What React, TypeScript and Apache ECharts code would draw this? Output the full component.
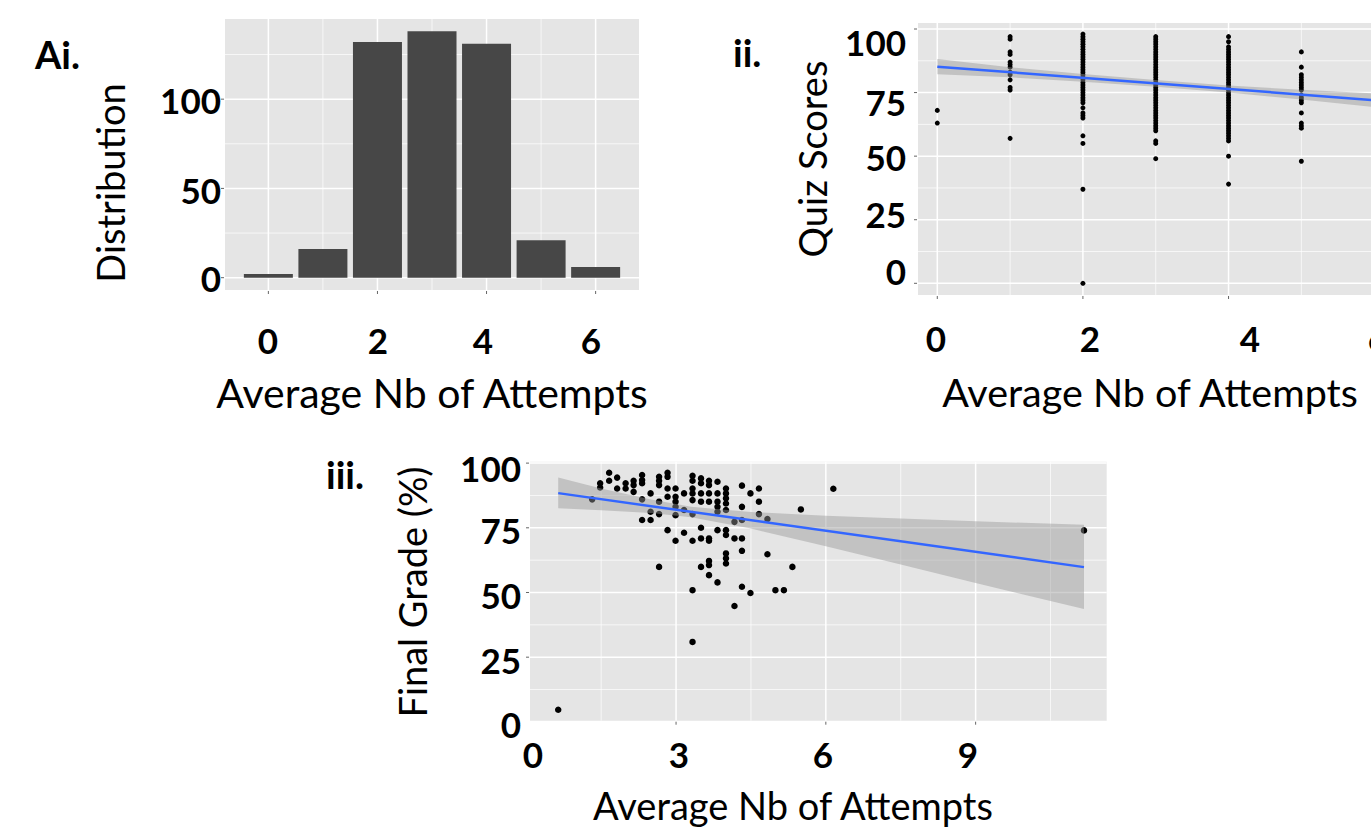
import React, { useEffect, useRef } from "react";
import * as echarts from "echarts";

// ---------- Panel Ai : distribution of average number of attempts ----------
const aiAttempts = [0, 1, 2, 3, 4, 5, 6];
const aiCounts = [2, 16, 132, 138, 131, 21, 6];
const aiXTickLabels = ["0", "2", "4", "6"];
const aiYTickLabels = ["100", "50", "0"];

// ---------- Panel ii : quiz scores by attempts ----------
const quizAt0 = [68, 63];
const quizAt1 = [97, 96, 91, 90, 87, 86, 85, 83, 82, 80, 77, 76, 57];
const quizAt2 = [98, 97, 96, 95, 94, 93, 92, 91, 90, 89, 88, 87, 86, 85, 84, 83, 82, 81, 80, 79, 78, 77, 76, 75, 74, 73, 72, 71, 69, 67, 66, 65, 58, 55, 37, 0];
const quizAt3 = [97, 96, 95, 94, 93, 92, 91, 90, 89, 88, 87, 86, 85, 84, 83, 82, 81, 80, 79, 78, 77, 76, 75, 74, 73, 72, 71, 70, 69, 68, 67, 66, 65, 64, 63, 62, 61, 60, 56, 55, 49];
const quizAt4 = [97, 95, 93, 92, 91, 90, 89, 88, 87, 86, 85, 84, 83, 82, 81, 80, 79, 78, 77, 76, 75, 74, 73, 72, 71, 70, 69, 68, 67, 66, 65, 64, 63, 62, 61, 60, 59, 58, 57, 56, 50, 39];
const quizAt5 = [91, 85, 82, 81, 80, 79, 78, 77, 76, 74, 73, 72, 71, 67, 63, 62, 61, 48];
const iiFitX = [0, 6];
const iiFitY = [85.2, 72.0];
const iiBandX = [0, 1, 2, 3, 4, 5, 6];
const iiBandLow = [82.2, 81.0, 79.3, 77.3, 75.0, 72.3, 69.3];
const iiBandHigh = [88.2, 85.0, 82.3, 79.9, 77.8, 76.1, 74.7];
const iiXTickLabels = ["0", "2", "4", "6"];
const iiYTickLabels = ["100", "75", "50", "25", "0"];

// ---------- Panel iii : final grade by attempts ----------
const gradeAttempts = [
  1.66, 1.48, 1.48, 1.66, 1.82, 1.82, 1.99, 1.99, 2.15, 2.15, 2.15, 2.32, 2.32, 2.32, 2.32, 2.49,
  2.66, 2.66, 2.66, 2.66, 2.83, 2.83, 2.83, 2.83, 2.99, 2.99, 2.99, 2.99, 2.99, 3.16, 3.16,
  3.33, 3.33, 3.33, 3.33, 3.33, 3.33, 3.5, 3.5, 3.5, 3.5, 3.66, 3.66, 3.66, 3.66,
  3.83, 3.83, 3.83, 3.83, 3.83, 4.0, 4.0, 4.0, 4.0, 4.0, 1.32, 2.49, 2.49, 2.32, 2.66,
  2.83, 2.99, 3.16, 3.33, 3.5, 3.5, 3.66, 3.66, 3.83, 4.0, 4.0, 4.17, 4.17,
  4.32, 4.32, 4.32, 4.32, 4.32, 4.49, 4.66, 4.66, 4.66, 4.83, 4.83,
  2.66, 3.5, 3.66, 3.66, 3.66, 3.83, 4.0, 4.0, 4.0, 4.32, 4.49, 4.99, 5.16, 5.33, 5.5,
  3.33, 4.17, 3.33, 6.15, 11.17, 0.64,
];
const gradeValues = [
  96.3, 92.2, 90.6, 93.2, 94.4, 90.2, 92.2, 90.2, 93.2, 91.5, 88.9, 95.4, 93.5, 92.2, 86.0, 88.3,
  94.7, 93.2, 91.5, 85.1, 96.3, 94.7, 90.2, 87.0, 90.2, 87.0, 85.1, 83.1, 79.9, 88.3, 81.9,
  95.1, 93.2, 90.2, 88.3, 85.7, 80.3, 94.1, 92.2, 88.3, 85.1, 93.2, 91.5, 88.3, 85.1,
  92.8, 88.3, 85.1, 83.1, 81.2, 90.2, 88.3, 86.4, 84.4, 81.9, 86.0, 81.2, 78.0, 78.0, 80.3,
  74.1, 70.0, 73.1, 70.0, 75.0, 70.9, 70.9, 70.0, 74.1, 74.1, 72.2, 77.3, 70.9,
  91.3, 83.1, 78.0, 70.9, 66.1, 88.3, 90.2, 85.1, 80.3, 78.4, 64.8,
  59.9, 59.9, 62.2, 60.6, 56.7, 53.9, 65.1, 63.2, 61.2, 52.2, 49.8, 50.9, 50.9, 59.9, 82.1,
  50.9, 44.8, 30.9, 90.1, 74.0, 4.7,
];
const iiiFitX = [0.64, 11.17];
const iiiFitY = [88.4, 59.8];
const iiiBandX = [0.64, 1.5, 2.5, 3.3, 4.5, 6, 7.5, 9, 11.17];
const iiiBandLow = [82.6, 81.8, 80.7, 79.1, 74.7, 67.9, 60.8, 53.7, 43.6];
const iiiBandHigh = [94.4, 90.2, 85.9, 83.1, 81.1, 79.7, 78.6, 77.5, 76.2];
const iiiXTickLabels = ["0", "3", "6", "9"];
const iiiYTickLabels = ["100", "75", "50", "25", "0"];

const xTitle = "Average Nb of Attempts";

const FONT = "Lato, 'Open Sans', sans-serif";
const BG = "#e5e5e5";

type GL = { d: "v" | "h" | "tv" | "th"; v: number; w: number };

function gridSeries(gi: number, xr: number[], yr: number[], xMaj: number[], xMin: number[], yMaj: number[], yMin: number[]) {
  const items: GL[] = [];
  const inX = (v: number) => v >= xr[0] && v <= xr[1];
  const inY = (v: number) => v >= yr[0] && v <= yr[1];
  xMin.filter(inX).forEach((v) => items.push({ d: "v", v, w: 0.7 }));
  yMin.filter(inY).forEach((v) => items.push({ d: "h", v, w: 0.7 }));
  xMaj.filter(inX).forEach((v) => items.push({ d: "v", v, w: 1.5 }));
  yMaj.filter(inY).forEach((v) => items.push({ d: "h", v, w: 1.5 }));
  xMaj.filter(inX).forEach((v) => items.push({ d: "tv", v, w: 1 }));
  yMaj.filter(inY).forEach((v) => items.push({ d: "th", v, w: 1 }));
  return {
    type: "custom",
    xAxisIndex: gi,
    yAxisIndex: gi,
    silent: true,
    z: 1,
    data: items.map(() => [xr[0], yr[0]]),
    renderItem: (params: any, api: any) => {
      const it = items[params.dataIndex];
      if (it.d === "v") {
        const a = api.coord([it.v, yr[0]]);
        const b = api.coord([it.v, yr[1]]);
        return { type: "line", shape: { x1: a[0], y1: a[1], x2: b[0], y2: b[1] }, style: { stroke: "#ffffff", lineWidth: it.w } };
      }
      if (it.d === "h") {
        const a = api.coord([xr[0], it.v]);
        const b = api.coord([xr[1], it.v]);
        return { type: "line", shape: { x1: a[0], y1: a[1], x2: b[0], y2: b[1] }, style: { stroke: "#ffffff", lineWidth: it.w } };
      }
      if (it.d === "tv") {
        const a = api.coord([it.v, yr[0]]);
        return { type: "line", shape: { x1: a[0], y1: a[1] + 1, x2: a[0], y2: a[1] + 4 }, style: { stroke: "#666", lineWidth: it.w } };
      }
      const a = api.coord([xr[0], it.v]);
      return { type: "line", shape: { x1: a[0] - 4, y1: a[1], x2: a[0] - 1, y2: a[1] }, style: { stroke: "#666", lineWidth: it.w } };
    },
  };
}

function bandSeries(gi: number, bx: number[], lo: number[], hi: number[]) {
  return {
    type: "custom",
    xAxisIndex: gi,
    yAxisIndex: gi,
    silent: true,
    z: 3,
    data: bx.map((x, i) => [x, lo[i]]),
    renderItem: (params: any, api: any) => {
      if (params.dataIndex !== 0) return null;
      const pts: number[][] = [];
      bx.forEach((x, i) => pts.push(api.coord([x, lo[i]])));
      for (let i = bx.length - 1; i >= 0; i--) pts.push(api.coord([bx[i], hi[i]]));
      return { type: "polygon", shape: { points: pts }, style: { fill: "rgba(150,150,150,0.45)" } };
    },
  };
}

function txt(text: string, x: number, y: number, size: number, bold: boolean, align = "center", rotate = 0) {
  return {
    type: "text",
    x,
    y,
    rotation: rotate,
    z: 10,
    silent: true,
    style: {
      text,
      fill: "#000",
      font: `${bold ? "bold " : ""}${size}px ${FONT}`,
      textAlign: align,
      textVerticalAlign: "middle",
    },
  };
}

export default function App() {
  const ref = useRef<HTMLDivElement>(null);
  useEffect(() => {
    if (!ref.current) return;
    const chart = echarts.init(ref.current, null, { renderer: "svg" });

    const aiXR = [-0.795, 6.795];
    const aiYR = [-6.9, 144.9];
    const iiXR = [-0.265, 6.3];
    const iiYR = [-4.6, 102.36];
    const iiiXR = [0.075, 11.625];
    const iiiYR = [0.45, 100.55];

    const quizCols = [quizAt0, quizAt1, quizAt2, quizAt3, quizAt4, quizAt5];
    const quizPoints: number[][] = [];
    quizCols.forEach((col, x) => col.forEach((y) => quizPoints.push([x, y])));

    const axisOff = { axisLabel: { show: false }, axisTick: { show: false }, axisLine: { show: false }, splitLine: { show: false } };

    const TICK = 35;
    const YT = 38;
    const PANEL = 38;

    const graphics: any[] = [
      // Panel labels
      txt("Ai.", 35, 54, PANEL, true, "left"),
      txt("ii.", 733, 52, PANEL, true, "left"),
      txt("iii.", 326, 474, PANEL, true, "left"),
      // Axis titles
      txt("Distribution", 110, 183, YT, false, "center", Math.PI / 2),
      txt(xTitle, 432, 392, 41, false),
      txt("Quiz Scores", 812, 159, YT, false, "center", Math.PI / 2),
      txt(xTitle, 1150, 391, 39.5, false),
      txt("Final Grade (%)", 412, 592, YT, false, "center", Math.PI / 2),
      txt(xTitle, 793, 805, 38, false),
    ];
    const aiXPos = [268, 378, 483, 591];
    aiXTickLabels.forEach((t, i) => graphics.push(txt(t, aiXPos[i], 340, TICK, true)));
    const aiYPos = [100, 190, 278];
    aiYTickLabels.forEach((t, i) => graphics.push(txt(t, 221, aiYPos[i], TICK, true, "right")));
    const iiXPos = [936, 1090, 1250, 1378];
    iiXTickLabels.forEach((t, i) => graphics.push(txt(t, iiXPos[i], 338, TICK, true)));
    const iiYPos = [42, 102, 157, 214, 271];
    iiYTickLabels.forEach((t, i) => graphics.push(txt(t, 906, iiYPos[i], TICK, true, "right")));
    const iiiXPos = [533, 679, 823, 968];
    iiiXTickLabels.forEach((t, i) => graphics.push(txt(t, iiiXPos[i], 754, TICK, true)));
    const iiiYPos = [468, 530, 595, 660, 724];
    iiiYTickLabels.forEach((t, i) => graphics.push(txt(t, 521, iiiYPos[i], TICK, true, "right")));

    const gridBase = { show: true, backgroundColor: BG, borderWidth: 0, outerBoundsMode: "none", containLabel: false };

    chart.setOption({
      animation: false,
      backgroundColor: "#ffffff",
      grid: [
        { ...gridBase, left: 225, top: 19, width: 414, height: 271 },
        { ...gridBase, left: 918, top: 23, width: 478, height: 272 },
        { ...gridBase, left: 530, top: 461.7, width: 576.7, height: 259 },
      ],
      xAxis: [
        { gridIndex: 0, type: "value", min: aiXR[0], max: aiXR[1], ...axisOff },
        { gridIndex: 1, type: "value", min: iiXR[0], max: iiXR[1], ...axisOff },
        { gridIndex: 2, type: "value", min: iiiXR[0], max: iiiXR[1], ...axisOff },
      ],
      yAxis: [
        { gridIndex: 0, type: "value", min: aiYR[0], max: aiYR[1], ...axisOff },
        { gridIndex: 1, type: "value", min: iiYR[0], max: iiYR[1], ...axisOff },
        { gridIndex: 2, type: "value", min: iiiYR[0], max: iiiYR[1], ...axisOff },
      ],
      graphic: graphics,
      series: [
        gridSeries(0, aiXR, aiYR, [0, 2, 4, 6], [1, 3, 5], [0, 50, 100], [25, 75, 125]),
        gridSeries(1, iiXR, iiYR, [0, 2, 4, 6], [1, 3, 5], [0, 25, 50, 75, 100], [12.5, 37.5, 62.5, 87.5]),
        gridSeries(2, iiiXR, iiiYR, [0, 3, 6, 9], [1.5, 4.5, 7.5, 10.5], [0, 25, 50, 75, 100], [12.5, 37.5, 62.5, 87.5]),
        {
          type: "bar",
          xAxisIndex: 0,
          yAxisIndex: 0,
          z: 2,
          barWidth: 49,
          data: aiAttempts.map((a, i) => [a, aiCounts[i]]),
          itemStyle: { color: "#474747" },
          silent: true,
        },
        {
          type: "scatter",
          xAxisIndex: 1,
          yAxisIndex: 1,
          z: 2,
          symbolSize: 5,
          data: quizPoints,
          itemStyle: { color: "#000", opacity: 1 },
          silent: true,
        },
        bandSeries(1, iiBandX, iiBandLow, iiBandHigh),
        {
          type: "line",
          xAxisIndex: 1,
          yAxisIndex: 1,
          z: 4,
          showSymbol: false,
          data: iiFitX.map((x, i) => [x, iiFitY[i]]),
          lineStyle: { color: "#3366FF", width: 2.5 },
          silent: true,
        },
        {
          type: "scatter",
          xAxisIndex: 2,
          yAxisIndex: 2,
          z: 2,
          symbolSize: 6.5,
          data: gradeAttempts.map((x, i) => [x, gradeValues[i]]),
          itemStyle: { color: "#000", opacity: 1 },
          silent: true,
        },
        bandSeries(2, iiiBandX, iiiBandLow, iiiBandHigh),
        {
          type: "line",
          xAxisIndex: 2,
          yAxisIndex: 2,
          z: 4,
          showSymbol: false,
          data: iiiFitX.map((x, i) => [x, iiiFitY[i]]),
          lineStyle: { color: "#3366FF", width: 2.5 },
          silent: true,
        },
      ],
    });
    return () => chart.dispose();
  }, []);
  return <div ref={ref} style={{ position: "fixed", left: 0, top: 0, width: 1371, height: 836 }} />;
}
